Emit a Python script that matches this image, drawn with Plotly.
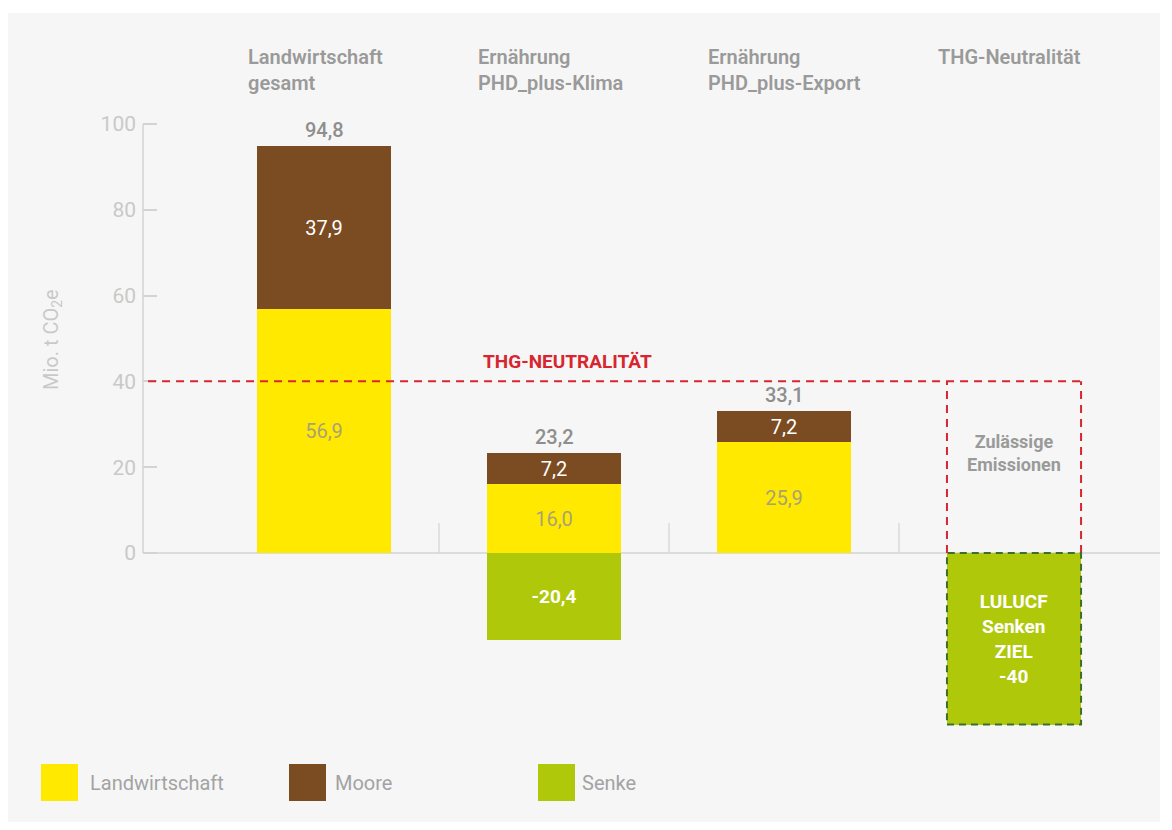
import plotly.graph_objects as go

# ---------------- data ----------------
categories = ["Landwirtschaft gesamt", "Ernährung PHD_plus-Klima", "Ernährung PHD_plus-Export", "THG-Neutralität"]
header_labels = ["Landwirtschaft<br>gesamt", "Ernährung<br>PHD_plus-Klima", "Ernährung<br>PHD_plus-Export", "THG-Neutralität"]
landwirtschaft = [56.9, 16.0, 25.9, None]
moore = [37.9, 7.2, 7.2, None]
senke = [None, -20.4, None, -40]
totals = [94.8, 23.2, 33.1, None]
thg_limit = 40
y_ticks = [0, 20, 40, 60, 80, 100]
legend_names = ["Landwirtschaft", "Moore", "Senke"]

# ---------------- style ----------------
YELLOW = "#ffe900"
BROWN = "#7b4c22"
GREEN = "#afc90a"
RED = "#d7262f"
DKGREEN = "#3d6e2e"
GREY_TXT = "#9a9a9a"
LIGHT = "#c9c9c9"
AXIS = "#d3d3d3"
PANEL = "#f6f6f6"
FONT = "Roboto, Liberation Sans, DejaVu Sans, sans-serif"

OFF = 8                      # browser body margin
W, H = 1172 - 2 * OFF, 830 - 2 * OFF
ML, MT = 143 - OFF, 103 - OFF
MR = W - (1160 - OFF)
MB = H - (746 - OFF)
PW, PH = W - ML - MR, H - MT - MB
BAR_W = 0.583
x = list(range(len(categories)))


def fmt(v):
    return "" if v is None else f"{v:.1f}".replace(".", ",")


def px_x(p):
    return (p - OFF - ML) / PW


def px_y(p):
    return (H - MB - (p - OFF)) / PH


def present(vals, labels=None):
    xs = [xi for xi, v in zip(x, vals) if v is not None]
    ys = [v for v in vals if v is not None]
    if labels is None:
        labels = [fmt(v) for v in vals]
    ts = [t for t, v in zip(labels, vals) if v is not None]
    return xs, ys, ts


fig = go.Figure()

xs, ys, ts = present(landwirtschaft)
fig.add_trace(go.Bar(
    x=xs, y=ys, name=legend_names[0], width=BAR_W,
    marker=dict(color=YELLOW, line=dict(width=0)),
    text=ts, textposition="inside",
    insidetextanchor="middle", textangle=0,
    textfont=dict(family=FONT, size=20, color="#a9a274"),
))
xs, ys, ts = present(moore)
fig.add_trace(go.Bar(
    x=xs, y=ys, name=legend_names[1], width=BAR_W,
    marker=dict(color=BROWN, line=dict(width=0)),
    text=ts, textposition="inside",
    insidetextanchor="middle", textangle=0,
    textfont=dict(family=FONT, size=20, color="white"),
))
senke_labels = ["", fmt(senke[1]), "", "LULUCF<br>Senken<br>ZIEL<br>" + f"{senke[3]:.0f}"]
xs, ys, ts = present(senke, senke_labels)
fig.add_trace(go.Bar(
    x=xs, y=ys, name=legend_names[2], width=BAR_W,
    marker=dict(color=GREEN, line=dict(width=0)),
    text=ts, textposition="inside",
    insidetextanchor="middle", textangle=0,
    textfont=dict(family=FONT, size=19, color="white", weight="bold"),
))

shapes = []
# grey panel background
shapes.append(dict(type="rect", xref="paper", yref="paper", layer="below",
                   x0=px_x(8), x1=px_x(1160), y0=px_y(828), y1=px_y(13),
                   fillcolor=PANEL, line=dict(width=0)))
# y-axis line 0..100
shapes.append(dict(type="line", xref="paper", yref="y", x0=0, x1=0, y0=0, y1=y_ticks[-1],
                   line=dict(color=AXIS, width=1.5), layer="below"))
# zero line
shapes.append(dict(type="line", xref="paper", yref="y", x0=0, x1=1, y0=0, y1=0,
                   line=dict(color=AXIS, width=1.5), layer="below"))
# category separators
for i in range(len(categories) - 1):
    shapes.append(dict(type="line", xref="x", yref="y", x0=i + 0.5, x1=i + 0.5, y0=0, y1=7,
                       line=dict(color=AXIS, width=1.2), layer="below"))
# THG neutrality line
x_right = x[3] + BAR_W / 2
x_left4 = x[3] - BAR_W / 2
shapes.append(dict(type="line", xref="x", yref="y", x0=-0.765, x1=x_right, y0=thg_limit, y1=thg_limit,
                   line=dict(color=RED, width=2, dash="8px,6px")))
shapes.append(dict(type="line", xref="x", yref="y", x0=x_left4, x1=x_left4, y0=0, y1=thg_limit,
                   line=dict(color=RED, width=2, dash="8px,6px")))
shapes.append(dict(type="line", xref="x", yref="y", x0=x_right, x1=x_right, y0=0, y1=thg_limit,
                   line=dict(color=RED, width=2, dash="8px,6px")))
# dashed border on LULUCF target bar
shapes.append(dict(type="rect", xref="x", yref="y", x0=x_left4, x1=x_right, y0=senke[3], y1=0,
                   line=dict(color=DKGREEN, width=2, dash="7px,5px")))

# legend squares
legend_sq_x = [41, 289, 538]
legend_cols = [YELLOW, BROWN, GREEN]
for sx, col in zip(legend_sq_x, legend_cols):
    shapes.append(dict(type="rect", xref="paper", yref="paper",
                       x0=px_x(sx), x1=px_x(sx + 37), y0=px_y(801), y1=px_y(764),
                       fillcolor=col, line=dict(width=0)))

annotations = []
# category headers
for i, lab in enumerate(header_labels):
    annotations.append(dict(xref="x", yref="paper", x=x[i] - 0.34, y=px_y(43),
                            xanchor="left", yanchor="top", align="left", showarrow=False,
                            text=lab, font=dict(family=FONT, size=20, color=GREY_TXT, weight=600)))
# totals
for i, t in enumerate(totals):
    if t is None:
        continue
    annotations.append(dict(xref="x", yref="y", x=x[i], y=t, xanchor="center", yanchor="bottom", yshift=2,
                            showarrow=False, text=fmt(t),
                            font=dict(family=FONT, size=20, color="#8e8e8e", weight=500)))
# THG label
annotations.append(dict(xref="x", yref="y", x=1.057, y=thg_limit, xanchor="center", yanchor="bottom", yshift=6,
                        showarrow=False, text="THG-NEUTRALITÄT",
                        font=dict(family=FONT, size=19, color=RED, weight="bold")))
# Zulässige Emissionen
annotations.append(dict(xref="x", yref="y", x=x[3], y=thg_limit * 0.58, xanchor="center", yanchor="middle",
                        showarrow=False, text="Zulässige<br>Emissionen",
                        font=dict(family=FONT, size=18, color=GREY_TXT, weight="bold")))
# y axis title
annotations.append(dict(xref="paper", yref="paper", x=px_x(52), y=px_y(340), showarrow=False,
                        xanchor="center", yanchor="middle",
                        textangle=-90, text="Mio. t CO<sub>2</sub>e",
                        font=dict(family=FONT, size=20, color=LIGHT)))
# legend labels
legend_txt_x = [88, 333, 580]
for tx, name in zip(legend_txt_x, legend_names):
    annotations.append(dict(xref="paper", yref="paper", x=px_x(tx), y=px_y(783),
                            xanchor="left", yanchor="middle", showarrow=False, text=name,
                            font=dict(family=FONT, size=20, color="#a3a3a3")))

fig.update_layout(
    width=W, height=H,
    margin=dict(l=ML, r=MR, t=MT, b=MB),
    paper_bgcolor="white", plot_bgcolor="rgba(0,0,0,0)",
    barmode="relative", bargap=0, showlegend=False,
    uniformtext=dict(mode=False),
    shapes=shapes, annotations=annotations,
    font=dict(family=FONT),
    xaxis=dict(range=[-0.787, -0.787 + PW / 230], visible=False, fixedrange=True),
    yaxis=dict(range=[-45, -45 + PH / 4.29], showgrid=False, zeroline=False, showline=False,
               tickvals=y_ticks, ticktext=[str(v) for v in y_ticks],
               ticks="inside", ticklen=14, tickcolor=AXIS, tickwidth=1.5,
               ticklabelstandoff=6,
               tickfont=dict(family=FONT, size=21, color=LIGHT)),
)
fig.update_traces(cliponaxis=False, constraintext="none")

fig.write_html("out.html")
